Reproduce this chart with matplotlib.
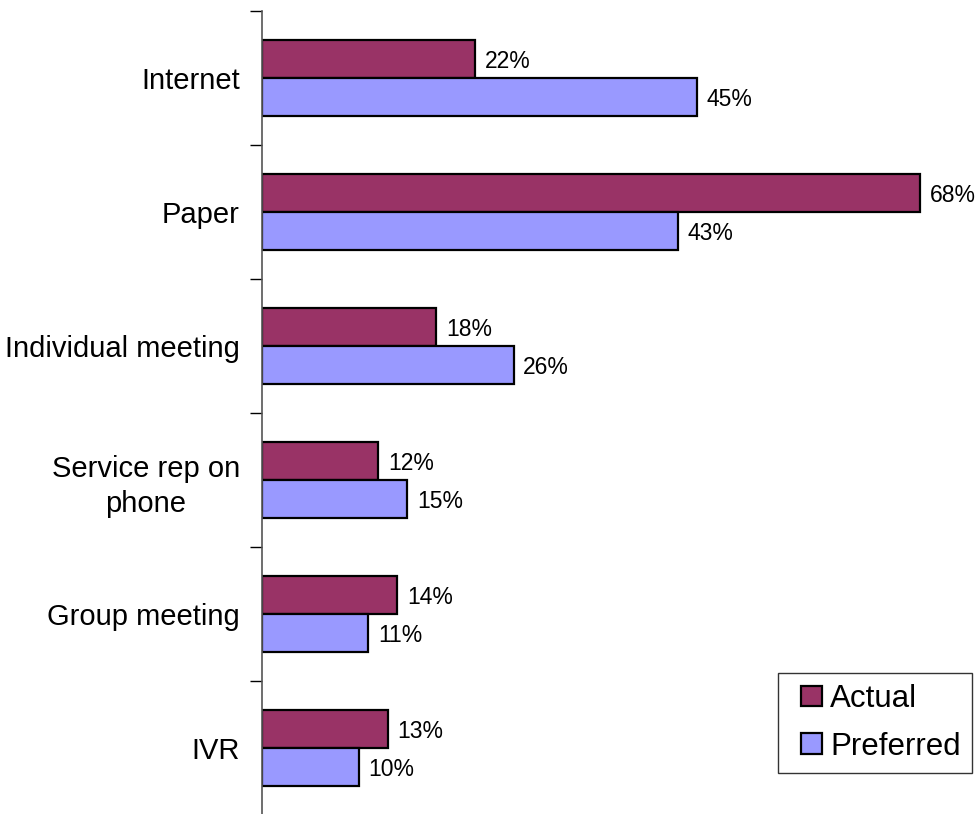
import numpy as np
import matplotlib.pyplot as plt
from matplotlib.patches import Rectangle
from matplotlib.container import BarContainer
from matplotlib.legend_handler import HandlerPatch, update_from_first_child

plt.rcParams['font.family'] = ['Liberation Sans', 'DejaVu Sans']

categories = ["Internet", "Paper", "Individual meeting", "Service rep on\nphone",
              "Group meeting", "IVR"]
actual = [22, 68, 18, 12, 14, 13]
preferred = [45, 43, 26, 15, 11, 10]

c_actual = "#993366"
c_preferred = "#9999FF"

fig = plt.figure(figsize=(9.75, 8.14), dpi=100)
ax = fig.add_axes([262 / 975, -1 / 814, 711 / 975, 804 / 814])

y = np.arange(len(categories))
h = 0.285
ax.barh(y - h / 2, actual, height=h, color=c_actual, edgecolor="black",
        linewidth=1.6, label="Actual")
ax.barh(y + h / 2, preferred, height=h, color=c_preferred, edgecolor="black",
        linewidth=1.6, label="Preferred")

for yi, a, p in zip(y, actual, preferred):
    ax.text(a + 1.0, yi - h / 2 + 0.02, f"{a}%", va="center", ha="left", fontsize=16.5)
    ax.text(p + 1.0, yi + h / 2 + 0.02, f"{p}%", va="center", ha="left", fontsize=16.5)

ax.set_xlim(0, 73.5)
ax.set_ylim(len(categories) - 0.5, -0.5)
ax.set_xticks([])
ax.set_yticks(y)
ax.set_yticklabels(categories, fontsize=21)
ax.set_yticks(np.arange(-0.5, len(categories)), minor=True)
ax.tick_params(axis="y", which="major", length=0, pad=16)
ax.tick_params(axis="y", which="minor", length=9, width=1, color="black")
for lbl in ax.get_yticklabels():
    lbl.set_horizontalalignment("right")
    lbl.set_multialignment("center")
    lbl.set_linespacing(1.3)
for s in ["top", "right", "bottom"]:
    ax.spines[s].set_visible(False)
ax.spines["left"].set_color("#555555")
ax.spines["left"].set_linewidth(1.2)


# small square swatch pushed to the right end of the handle box
def square_swatch(legend, orig_handle, xdescent, ydescent, width, height, fontsize):
    s = 0.67 * fontsize
    return Rectangle((-xdescent + width - s, -ydescent + (height - s) / 2), s, s)


leg = fig.legend(loc="upper left", bbox_to_anchor=(778 / 975, 1 - 673 / 814),
                 fontsize=22.5, frameon=True, fancybox=False, edgecolor="black",
                 handlelength=1.06, handleheight=0.7, handletextpad=0.26,
                 labelspacing=0.57, borderpad=0.35, borderaxespad=0,
                 handler_map={BarContainer: HandlerPatch(
                     patch_func=square_swatch,
                     update_func=update_from_first_child)})
leg.get_frame().set_linewidth(1.0)
for p in leg.get_patches():
    p.set_linewidth(1.6)

fig.savefig("out.png", dpi=100)
